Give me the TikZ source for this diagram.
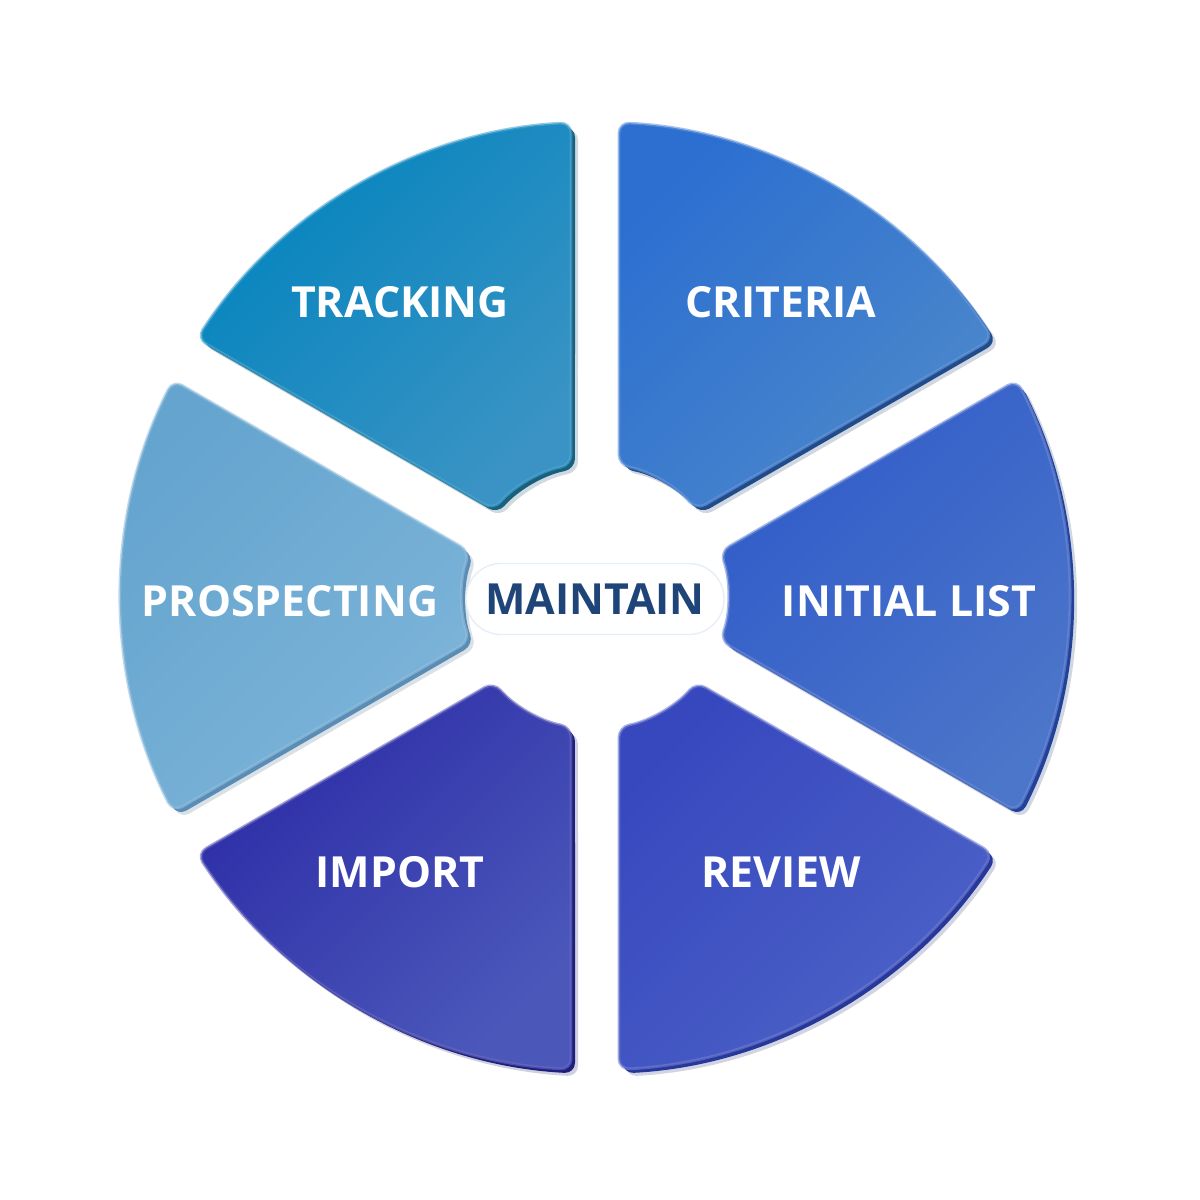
\documentclass[tikz,border=0pt]{standalone}
\usepackage{fontspec}
\setmainfont{Open Sans}
\usetikzlibrary{positioning}
\definecolor{trackA}{HTML}{0384BE}\definecolor{trackB}{HTML}{3A93C4}\definecolor{trackE}{HTML}{17607F}
\definecolor{critA}{HTML}{2C6FD0}\definecolor{critB}{HTML}{4C88CB}\definecolor{critE}{HTML}{214C8C}
\definecolor{initA}{HTML}{315CC9}\definecolor{initB}{HTML}{4C76C9}\definecolor{initE}{HTML}{22429A}
\definecolor{revA}{HTML}{3748BF}\definecolor{revB}{HTML}{4C62C6}\definecolor{revE}{HTML}{26389A}
\definecolor{impA}{HTML}{2C2CA6}\definecolor{impB}{HTML}{4B58BA}\definecolor{impE}{HTML}{1D1F7E}
\definecolor{prospA}{HTML}{64A4CE}\definecolor{prospB}{HTML}{7DB4D9}\definecolor{prospE}{HTML}{5A8DB5}
\definecolor{maintT}{HTML}{1F4477}\definecolor{maintB}{HTML}{E6EEF8}
\begin{document}
\begin{tikzpicture}[every node/.style={font=\bfseries\fontsize{12.2}{15}\selectfont, text=white},
  segpath/.style={insert path={(\oa:\Ro) arc[start angle=\oa, end angle=\ob, radius=\Ro]
    -- (\ib:\Ri) arc[start angle=\ib, end angle=\ia, radius=\Ri] -- cycle}}]
  \useasboundingbox (-5.95,-6.04) rectangle (6.05,5.96);
  \def\Ro{4.74} \def\Ri{1.33}
  \foreach \a/\b/\ca/\cb/\ce in {90/150/trackA/trackB/trackE, 30/90/critA/critB/critE,
      -30/30/initA/initB/initE, -90/-30/revA/revB/revE, -150/-90/impA/impB/impE,
      150/210/prospA/prospB/prospE}{
    \pgfmathsetmacro\oa{\a+2.9} \pgfmathsetmacro\ob{\b-2.9}
    \pgfmathsetmacro\ia{\a+10.4} \pgfmathsetmacro\ib{\b-10.4}
    \fill[\ce!60!gray, opacity=.25, rounded corners=3pt, shift={(0.07,-0.07)}, segpath];
    \fill[\ce, rounded corners=3pt, shift={(0.04,-0.04)}, segpath];
    \shade[top color=\ca, bottom color=\cb, shading angle=45, rounded corners=3pt, segpath];
    \draw[\ca!70!white, opacity=.6, line width=.8pt, rounded corners=3pt, segpath];
  }
  \node (track) at (-1.95,2.94) {TRACKING};
  \node (crit) at (1.86,2.94) {CRITERIA};
  \node (init) at (3.14,-0.05) {INITIAL LIST};
  \node (rev) at (1.86,-2.76) {REVIEW};
  \node (imp) at (-1.95,-2.76) {IMPORT};
  \node (prosp) at (-3.05,-0.05) {PROSPECTING};
  \node[draw=maintB, fill=white, text=maintT, rounded corners=0.35cm,
    minimum width=2.58cm, minimum height=0.71cm] (maint) at (0,-0.03) {MAINTAIN};
\end{tikzpicture}
\end{document}
